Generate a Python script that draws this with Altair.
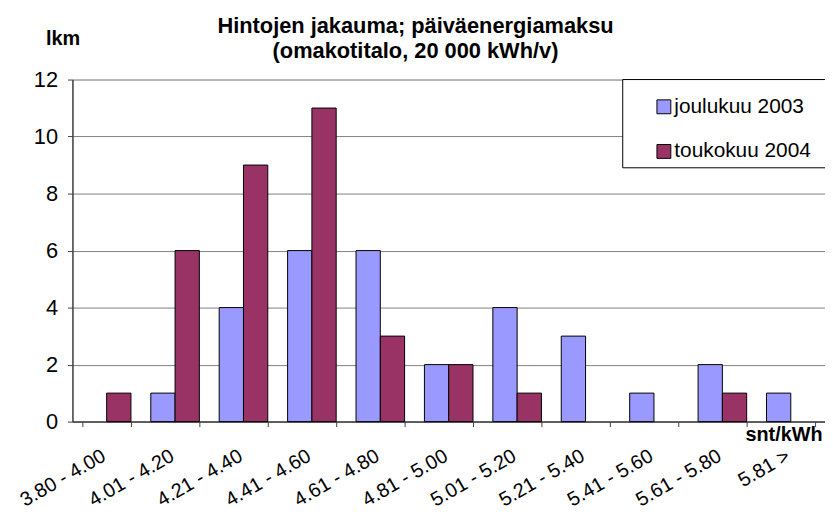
import altair as alt
import pandas as pd

categories = ["3.80 - 4.00", "4.01 - 4.20", "4.21 - 4.40", "4.41 - 4.60", "4.61 - 4.80",
              "4.81 - 5.00", "5.01 - 5.20", "5.21 - 5.40", "5.41 - 5.60", "5.61 - 5.80", "5.81 >"]
series_names = ["joulukuu 2003", "toukokuu 2004"]
joulukuu_2003 = [0, 1, 4, 6, 6, 2, 4, 3, 1, 2, 1]
toukokuu_2004 = [1, 6, 9, 11, 3, 2, 1, 0, 0, 1, 0]
colors = ["#9999FF", "#993366"]
title_lines = ["Hintojen jakauma; päiväenergiamaksu", "(omakotitalo, 20 000 kWh/v)"]

rows = []
for i, c in enumerate(categories):
    rows.append({"hinta": c, "sarja": series_names[0], "lkm": joulukuu_2003[i]})
    rows.append({"hinta": c, "sarja": series_names[1], "lkm": toukokuu_2004[i]})
df = pd.DataFrame(rows)

font = "Liberation Sans"
W, H = 759, 345
axis_col = "#404040"
grid_col = "#808080"

bars = alt.Chart(df).transform_filter("datum.lkm > 0").mark_bar(
    stroke="black", strokeWidth=1
).encode(
    x=alt.X("hinta:N", sort=categories,
            scale=alt.Scale(domain=categories, paddingInner=0.29, paddingOuter=0.145),
            axis=alt.Axis(title="snt/kWh", labelAngle=-30, labelAlign="right",
                          labelBaseline="top", labelFontSize=20, labelFont=font,
                          labelColor="black", labelPadding=19, labelOffset=-8,
                          tickBand="extent", ticks=True, tickSize=5, tickColor=axis_col,
                          domainColor=axis_col, domainWidth=1.5, grid=False,
                          titleFont=font, titleFontSize=20, titleFontWeight="bold",
                          titleColor="black", titleAnchor="end", titleAlign="right",
                          titleX=756, titleY=19, titleBaseline="alphabetic")),
    xOffset=alt.XOffset("sarja:N", scale=alt.Scale(domain=series_names)),
    y=alt.Y("lkm:Q", scale=alt.Scale(domain=[0, 12]),
            axis=alt.Axis(title="lkm", titleAngle=0, values=[0, 2, 4, 6, 8, 10, 12],
                          labelFontSize=22, labelFont=font, labelColor="black",
                          tickSize=5, tickColor=axis_col, domainColor=axis_col,
                          domainWidth=1.5,
                          gridColor=grid_col, gridWidth=1, labelPadding=10,
                          titleFont=font, titleFontSize=20, titleFontWeight="bold",
                          titleColor="black", titleAlign="center",
                          titleX=-10, titleY=-35, titleBaseline="alphabetic")),
    color=alt.Color("sarja:N",
                    scale=alt.Scale(domain=series_names, range=colors),
                    legend=alt.Legend(title=None, orient="none", legendX=586, legendY=17,
                                      symbolType="square", symbolSize=196,
                                      symbolStrokeColor="black", symbolStrokeWidth=1,
                                      symbolOpacity=1,
                                      labelFont=font, labelFontSize=21, labelColor="black",
                                      labelOffset=0, padding=0, rowPadding=23,
                                      labelLimit=300, offset=0)),
)

frame = alt.Chart(alt.Data(values=[{}])).mark_rect(
    fill="white", stroke="black", strokeWidth=1
).encode(
    x=alt.value(555), x2=alt.value(W + 10), y=alt.value(0), y2=alt.value(89)
)

title_df = pd.DataFrame({"t": title_lines, "row": [0, 1]})
title = alt.Chart(title_df).mark_text(
    font=font, fontSize=22, fontWeight="bold", color="black", align="center",
    baseline="alphabetic"
).encode(
    text="t:N",
    x=alt.value(346),
    y=alt.Y("row:Q", scale=alt.Scale(domain=[0, 1], range=[-47, -22]), axis=None),
)

chart = alt.layer(bars, frame, title).resolve_scale(y="independent").properties(
    width=W,
    height=H,
    autosize=alt.AutoSizeParams(type="none"),
    padding={"left": 65, "top": 70, "right": 0, "bottom": 89},
).configure_view(stroke=None).configure(background="white")

chart.save("out.html", embed_options={"renderer": "svg", "actions": False})
